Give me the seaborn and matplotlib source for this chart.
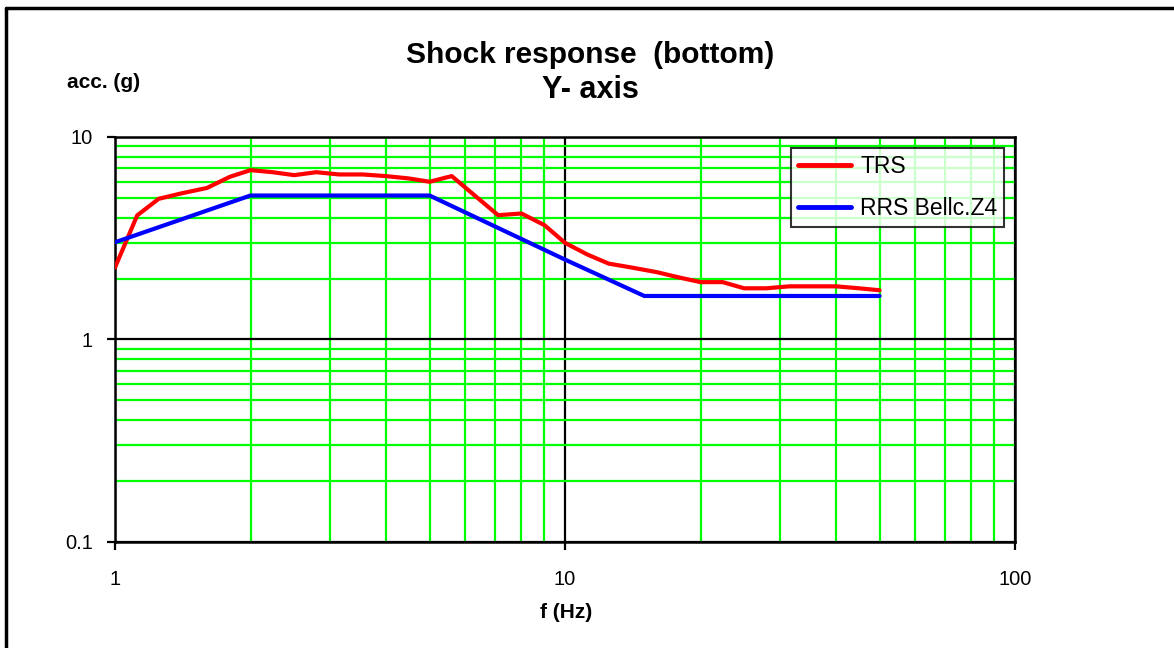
import matplotlib
matplotlib.use("Agg")
import matplotlib.pyplot as plt
from matplotlib.ticker import LogLocator, FuncFormatter, NullFormatter
from matplotlib.lines import Line2D
import pandas as pd
import seaborn as sns

# TRS (test response spectrum), 1/6 octave frequencies
trs_freq = [1, 1.12, 1.25, 1.4, 1.6, 1.8, 2, 2.24, 2.5, 2.8, 3.15, 3.55, 4, 4.5, 5,
            5.6, 6.3, 7.1, 8, 9, 10, 11.2, 12.5, 14, 16, 18, 20, 22.4, 25, 28,
            31.5, 35.5, 40, 45, 50]
trs_acc = [2.27, 4.1, 4.95, 5.26, 5.6, 6.36, 6.86, 6.7, 6.48, 6.7, 6.53, 6.53, 6.41, 6.24, 6.01,
           6.41, 5.14, 4.11, 4.19, 3.67, 3.0, 2.63, 2.37, 2.27, 2.15, 2.02, 1.92, 1.92, 1.79, 1.79,
           1.83, 1.83, 1.83, 1.79, 1.75]

# RRS (required response spectrum) Bellcore zone 4
rrs_freq = [1, 2, 5, 10, 15, 50]
rrs_acc = [3.02, 5.14, 5.14, 2.48, 1.64, 1.64]

series_names = ["TRS", "RRS Bellc.Z4"]
series_colors = ["#ff0000", "#0000ff"]

df = pd.concat([
    pd.DataFrame({"f": trs_freq, "acc": trs_acc, "curve": series_names[0]}),
    pd.DataFrame({"f": rrs_freq, "acc": rrs_acc, "curve": series_names[1]}),
], ignore_index=True)

sns.set_style("white")
plt.rcParams["font.family"] = ["Liberation Sans", "DejaVu Sans"]
plt.rcParams["text.color"] = "black"
plt.rcParams["xtick.color"] = "black"
plt.rcParams["ytick.color"] = "black"

fig = plt.figure(figsize=(11.74, 6.48), dpi=100)
ax = fig.add_axes([0.098, 0.1636, 0.7666, 0.625])

sns.lineplot(data=df, x="f", y="acc", hue="curve", hue_order=series_names,
             palette=series_colors, linewidth=3, sort=False, estimator=None,
             ax=ax, zorder=3)

ax.set_xscale("log")
ax.set_yscale("log")
ax.set_xlim(1, 100)
ax.set_ylim(0.1, 10)

# green minor grid, black major lines
ax.xaxis.set_minor_locator(LogLocator(base=10, subs=range(2, 10)))
ax.yaxis.set_minor_locator(LogLocator(base=10, subs=range(2, 10)))
ax.xaxis.set_minor_formatter(NullFormatter())
ax.yaxis.set_minor_formatter(NullFormatter())
ax.grid(which="minor", color="#00ff00", linewidth=1.6)
ax.grid(which="major", color="black", linewidth=1.6)
ax.set_axisbelow(True)

fmt = FuncFormatter(lambda v, p: f"{v:g}")
ax.xaxis.set_major_formatter(fmt)
ax.yaxis.set_major_formatter(fmt)
ax.tick_params(which="minor", length=0)
ax.tick_params(which="major", length=6, width=1.6, direction="out",
               labelsize=14.5, colors="black", bottom=True, left=True)
ax.tick_params(axis="x", pad=14)
ax.tick_params(axis="y", pad=10)

for s in ax.spines.values():
    s.set_color("black")
    s.set_linewidth(1.8)

ax.set_xlabel("")
ax.set_ylabel("")

leg = ax.legend(loc="upper right", bbox_to_anchor=(0.988, 0.973), fontsize=16.5,
                frameon=True, fancybox=False, edgecolor="black",
                handlelength=2.3, borderpad=0.3, labelspacing=0.85,
                handletextpad=0.4, borderaxespad=0)
leg.get_frame().set_linewidth(1.5)
for h in leg.get_lines():
    h.set_linewidth(3.5)
for t in leg.get_texts():
    t.set_color("black")

fig.text(0.5027, 0.915, "Shock response  (bottom)", ha="center", va="center",
         fontsize=21.5, fontweight="bold")
fig.text(0.5027, 0.861, "Y- axis", ha="center", va="center",
         fontsize=22, fontweight="bold")
fig.text(0.088, 0.873, "acc. (g)", ha="center", va="center",
         fontsize=15, fontweight="bold")
fig.text(0.482, 0.055, "f (Hz)", ha="center", va="center",
         fontsize=15, fontweight="bold")

# outer frame (left and top edges only visible)
fig.add_artist(Line2D([0.0055, 0.0055], [0, 0.987], color="black", linewidth=2.5,
                      transform=fig.transFigure))
fig.add_artist(Line2D([0.0055, 1], [0.987, 0.987], color="black", linewidth=2.5,
                      transform=fig.transFigure))

fig.savefig("out.png", dpi=100)
